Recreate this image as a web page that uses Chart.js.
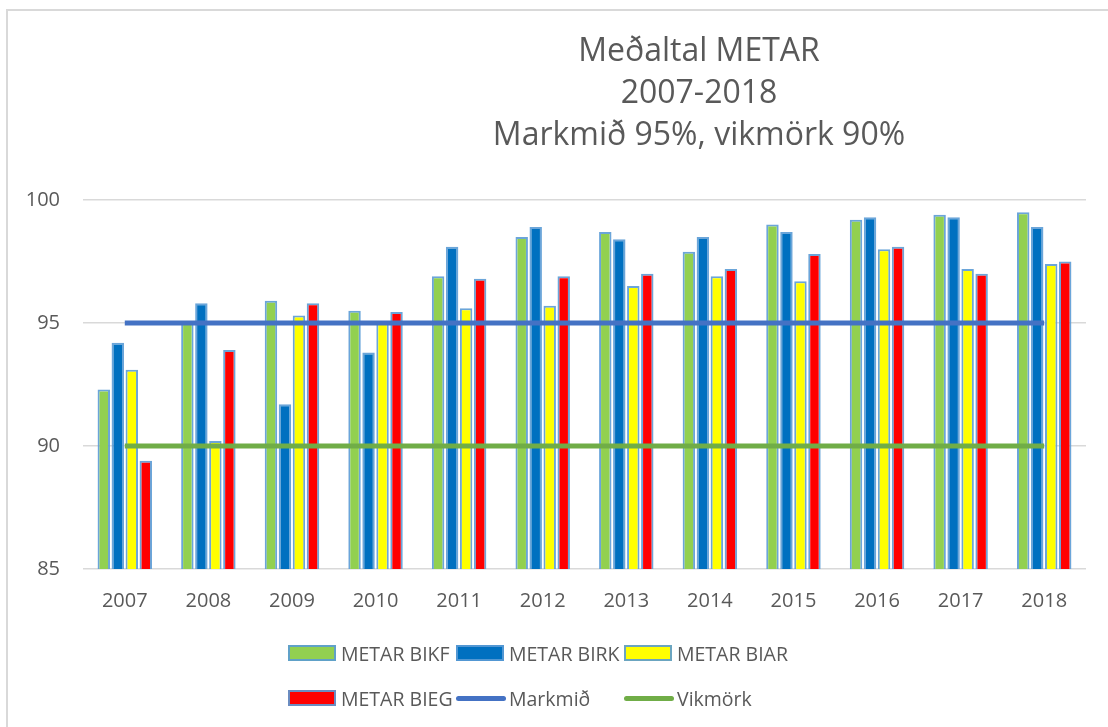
<!DOCTYPE html>
<html lang="is">
<head>
  <meta charset="UTF-8" />
  <title>Meðaltal METAR</title>
  <script src="https://cdn.jsdelivr.net/npm/chart.js"></script>
  <style>
    body {
      margin: 0;
      background: #fff;
      overflow: hidden;
      font-family: 'Open Sans', sans-serif;
      color: #595959;
    }

    .frame {
      position: absolute;
      left: 6px;
      top: 9px;
      width: 1200px;
      height: 800px;
      border: 2px solid #d9d9d9;
    }

    #chart {
      position: absolute;
      left: 0;
      top: 0;
    }

    .title {
      position: absolute;
      left: 399px;
      top: 28px;
      width: 600px;
      text-align: center;
      font-size: 32px;
      line-height: 42px;
    }

    .item {
      position: absolute;
      height: 20px;
      display: flex;
      align-items: center;
      font-size: 19.5px;
      white-space: nowrap;
    }

    .swatch {
      box-sizing: border-box;
      width: 48px;
      height: 16px;
      border: 2px solid rgba(91, 155, 213, 0.9);
      margin-right: 5px;
    }

    .line-swatch {
      width: 50px;
      height: 5px;
      border-radius: 3px;
      margin-right: 3px;
    }
  </style>
</head>
<body>
  <div class="frame"></div>
  <canvas id="chart" width="1108" height="727"></canvas>
  <div class="title">Meðaltal METAR<br>2007-2018<br>Markmið 95%, vikmörk 90%</div>
  <div id="legend"></div>

  <script>
    const years = ['2007', '2008', '2009', '2010', '2011', '2012', '2013', '2014', '2015', '2016', '2017', '2018'];

    const bikf = [92.3, 95.0, 95.9, 95.5, 96.9, 98.5, 98.7, 97.9, 99.0, 99.2, 99.4, 99.5];
    const birk = [94.2, 95.8, 91.7, 93.8, 98.1, 98.9, 98.4, 98.5, 98.7, 99.3, 99.3, 98.9];
    const biar = [93.1, 90.2, 95.3, 95.0, 95.6, 95.7, 96.5, 96.9, 96.7, 98.0, 97.2, 97.4];
    const bieg = [89.4, 93.9, 95.8, 95.45, 96.8, 96.9, 97.0, 97.2, 97.8, 98.1, 97.0, 97.5];

    const markmid = [95, 95, 95, 95, 95, 95, 95, 95, 95, 95, 95, 95];
    const vikmork = [90, 90, 90, 90, 90, 90, 90, 90, 90, 90, 90, 90];

    const yTicks = [85, 90, 95, 100];

    const barSeries = [
      { name: 'METAR BIKF', data: bikf, color: '#92d050' },
      { name: 'METAR BIRK', data: birk, color: '#0070c0' },
      { name: 'METAR BIAR', data: biar, color: '#ffff00' },
      { name: 'METAR BIEG', data: bieg, color: '#ff0000' }
    ];
    const lineSeries = [
      { name: 'Markmið', data: markmid, color: '#4472c4' },
      { name: 'Vikmörk', data: vikmork, color: '#70ad47' }
    ];

    Chart.defaults.font.family = 'Open Sans';
    Chart.defaults.color = '#595959';

    const datasets = [];
    lineSeries.forEach(s => {
      datasets.push({
        type: 'line',
        label: s.name,
        data: s.data,
        borderColor: s.color,
        backgroundColor: s.color,
        borderWidth: 5,
        pointRadius: 0,
        order: 0
      });
    });
    barSeries.forEach(s => {
      datasets.push({
        type: 'bar',
        label: s.name,
        data: s.data,
        backgroundColor: s.color,
        borderColor: 'rgba(91,155,213,0.9)',
        borderWidth: 2,
        categoryPercentage: 0.67,
        barPercentage: 0.89,
        order: 1
      });
    });

    const ctx = document.getElementById('chart').getContext('2d');
    new Chart(ctx, {
      data: { labels: years, datasets },
      options: {
        responsive: false,
        animation: false,
        layout: { padding: { left: 0, right: 22, top: 200, bottom: 0 } },
        plugins: {
          legend: { display: false },
          title: { display: false },
          tooltip: { enabled: false }
        },
        scales: {
          x: {
            grid: { display: false },
            border: { display: false },
            ticks: { font: { size: 20 }, padding: 12 },
            afterFit: s => { s.height = 158; }
          },
          y: {
            min: 85,
            max: 100,
            afterBuildTicks: s => { s.ticks = yTicks.map(v => ({ value: v })); },
            grid: { color: '#d9d9d9', lineWidth: 1.5, drawTicks: false },
            border: { display: false },
            ticks: { font: { size: 20 }, padding: 23 },
            afterFit: s => { s.width = 83; }
          }
        }
      }
    });

    // legend laid out in Excel-like grid, 3 columns
    const legend = document.getElementById('legend');
    const cols = [288, 456, 624];
    const rows = [643, 688];
    const items = barSeries.map(s => ({ ...s, kind: 'box' }))
      .concat(lineSeries.map(s => ({ ...s, kind: 'line' })));
    items.forEach((it, i) => {
      const el = document.createElement('div');
      el.className = 'item';
      el.style.left = cols[i % 3] + 'px';
      el.style.top = rows[Math.floor(i / 3)] + 'px';
      const sw = document.createElement('span');
      sw.className = it.kind === 'box' ? 'swatch' : 'line-swatch';
      sw.style.background = it.color;
      const txt = document.createElement('span');
      txt.textContent = it.name;
      el.appendChild(sw);
      el.appendChild(txt);
      legend.appendChild(el);
    });
  </script>
</body>
</html>
